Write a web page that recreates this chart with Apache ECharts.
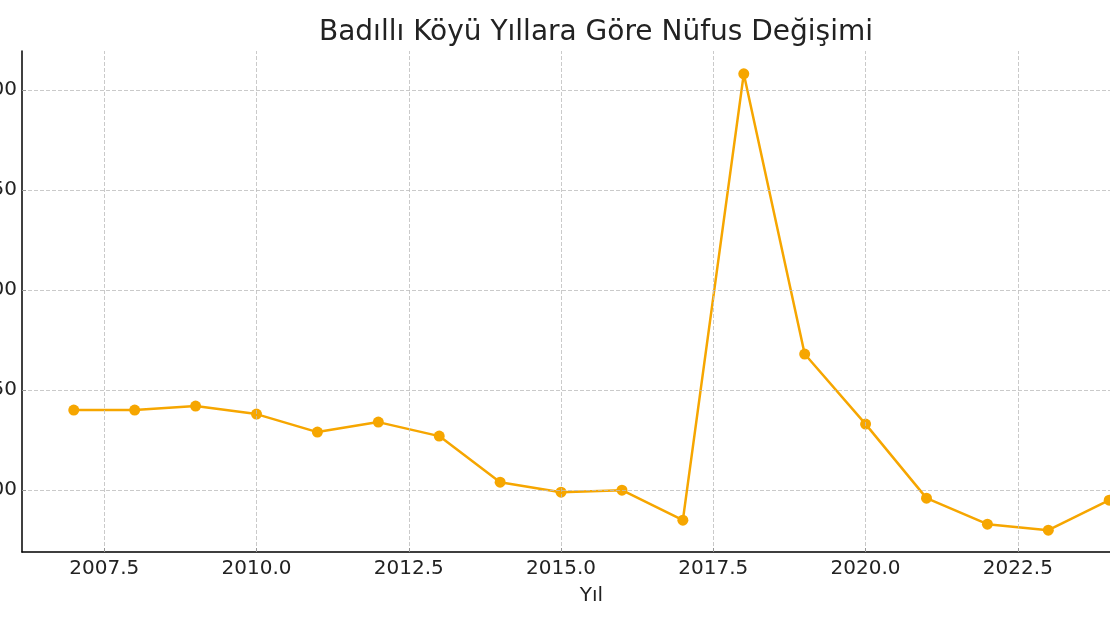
<!DOCTYPE html>
<html>
<head>
<meta charset="utf-8">
<script src="https://cdn.jsdelivr.net/npm/echarts@6/dist/echarts.min.js"></script>
<style>html,body{margin:0;padding:0;background:#fff;}#c{width:1110px;height:625px;}</style>
</head>
<body>
<div id="c"></div>
<script>
var years = [2007,2008,2009,2010,2011,2012,2013,2014,2015,2016,2017,2018,2019,2020,2021,2022,2023,2024];
var population = [140,140,142,138,129,134,127,104,99,100,85,308,168,133,96,83,80,95];
var xTicks = [2007.5,2010.0,2012.5,2015.0,2017.5,2020.0,2022.5];
var yTicks = [100,150,200,250,300];
var titleText = 'Badıllı Köyü Yıllara Göre Nüfus Değişimi';
var xName = 'Yıl';

var chart = echarts.init(document.getElementById('c'));
var gridStyle = {color:'#bdbdbd', type:[4,2], width:0.8};
var markData = xTicks.map(function(v){return {xAxis:v};}).concat(yTicks.map(function(v){return {yAxis:v};}));
chart.setOption({
  animation:false,
  backgroundColor:'#fff',
  textStyle:{fontFamily:'DejaVu Sans'},
  title:{text:titleText, left:591, top:14, textAlign:'center',
    textStyle:{fontFamily:'DejaVu Sans', fontSize:28, fontWeight:'normal', color:'#222'}},
  grid:{left:22, top:51, width:1139, height:501, containLabel:false, outerBoundsMode:'none'},
  xAxis:{type:'value', min:2006.15, max:2024.85,
    name:xName, nameLocation:'middle', nameGap:34,
    nameTextStyle:{fontFamily:'DejaVu Sans', fontSize:20, color:'#222'},
    axisLine:{show:true, onZero:false, lineStyle:{color:'#000', width:1.5}},
    axisTick:{show:true, inside:true, length:4, customValues:xTicks, lineStyle:{color:'#000'}},
    axisLabel:{customValues:xTicks, fontFamily:'DejaVu Sans', fontSize:20, color:'#222', margin:7,
      formatter:function(v){return Number(v).toFixed(1);}},
    splitLine:{show:false}},
  yAxis:{type:'value', min:69.1, max:319.4,
    axisLine:{show:true, onZero:false, lineStyle:{color:'#000', width:1.5}},
    axisTick:{show:true, inside:true, length:4, customValues:yTicks, lineStyle:{color:'#000'}},
    axisLabel:{customValues:yTicks, fontFamily:'DejaVu Sans', fontSize:20, color:'#222', margin:5},
    splitLine:{show:false}},
  series:[
    {type:'line', data:[], silent:true, z:1,
     markLine:{silent:true, symbol:['none','none'], label:{show:false}, lineStyle:gridStyle,
       emphasis:{disabled:true}, animation:false, data:markData}},
    {type:'line', z:3, data:years.map(function(y,i){return [y,population[i]];}),
     symbol:'circle', symbolSize:11, lineStyle:{color:'#F6A600', width:2.5},
     itemStyle:{color:'#F6A600'}}
  ]
});
</script>
</body>
</html>
